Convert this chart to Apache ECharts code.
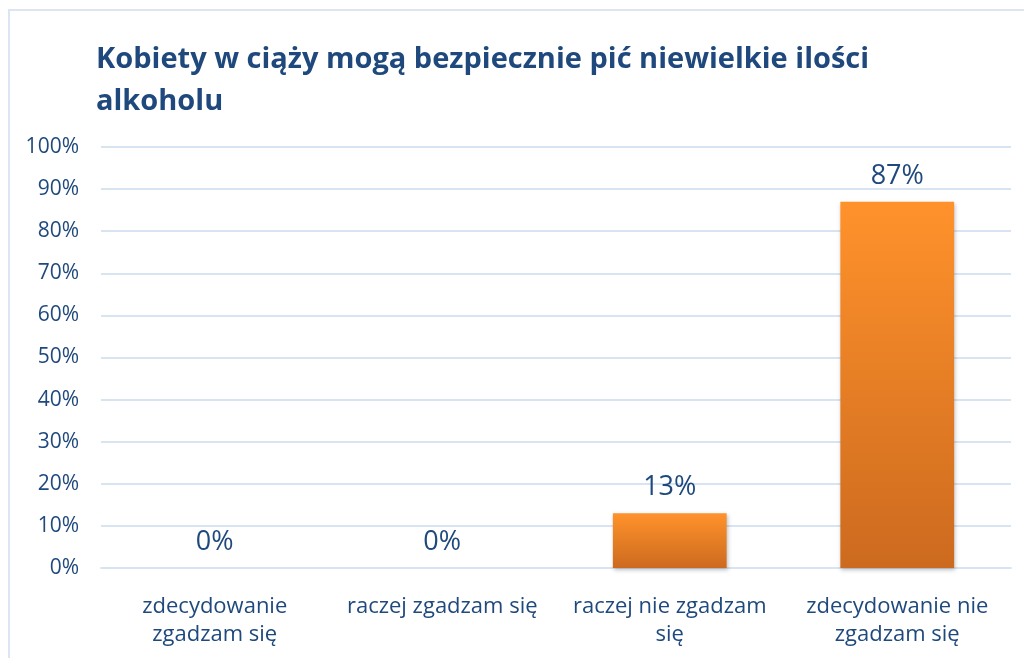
<!DOCTYPE html>
<html lang="pl">
<head>
    <meta charset="UTF-8">
    <title>Kobiety w ciąży</title>
    <script src="https://cdn.jsdelivr.net/npm/echarts@6.0.0/dist/echarts.min.js"></script>
    <style>
        html, body { margin: 0; padding: 0; background: #fff; }
        #frame { position: absolute; left: 8px; top: 9px; width: 1030px; height: 660px; border: 2px solid #dce6f2; box-sizing: border-box; }
        #chart { position: absolute; left: 0; top: 0; width: 1024px; height: 658px; }
    </style>
</head>
<body>
<div id="frame"></div>
<div id="chart"></div>
<script>
    const categories = ['zdecydowanie\nzgadzam się', 'raczej zgadzam się', 'raczej nie zgadzam\nsię', 'zdecydowanie nie\nzgadzam się'];
    const values = [0, 0, 13, 87];
    const yTicks = [0, 10, 20, 30, 40, 50, 60, 70, 80, 90, 100];

    const textColor = '#1f497d';
    const font = 'Open Sans';

    const chart = echarts.init(document.querySelector('#chart'));

    chart.setOption({
        animation: false,
        title: {
            text: 'Kobiety w ciąży mogą bezpiecznie pić niewielkie ilości\nalkoholu',
            left: 91,
            top: 34,
            textStyle: {
                color: textColor,
                fontFamily: font,
                fontWeight: 'bold',
                fontSize: 29,
                lineHeight: 42
            }
        },
        grid: {
            left: 101,
            right: 13,
            top: 147,
            bottom: 90
        },
        xAxis: {
            type: 'category',
            data: categories,
            axisLine: { lineStyle: { color: '#d9e4f3', width: 2 } },
            axisTick: { show: false },
            axisLabel: {
                color: textColor,
                fontFamily: font,
                fontSize: 22,
                lineHeight: 28,
                margin: 25,
                interval: 0
            }
        },
        yAxis: {
            type: 'value',
            min: 0,
            max: 100,
            interval: 10,
            axisLine: { show: false },
            axisTick: { show: false },
            splitLine: { lineStyle: { color: '#d9e4f3', width: 2 } },
            axisLabel: {
                color: textColor,
                fontFamily: font,
                fontSize: 21,
                margin: 22,
                formatter: v => yTicks.includes(v) ? v + '%' : ''
            }
        },
        series: [
            {
                type: 'bar',
                data: values,
                barWidth: '50%',
                itemStyle: {
                    color: new echarts.graphic.LinearGradient(0, 0, 0, 1, [
                        { offset: 0, color: '#ff922b' },
                        { offset: 1, color: '#cc6a1f' }
                    ]),
                    shadowColor: 'rgba(0,0,0,0.25)',
                    shadowBlur: 4,
                    shadowOffsetX: 1,
                    shadowOffsetY: 2
                },
                label: {
                    show: true,
                    position: 'top',
                    distance: 12,
                    color: textColor,
                    fontFamily: font,
                    fontSize: 27,
                    formatter: p => p.value + '%'
                }
            }
        ]
    });
</script>
</body>
</html>
